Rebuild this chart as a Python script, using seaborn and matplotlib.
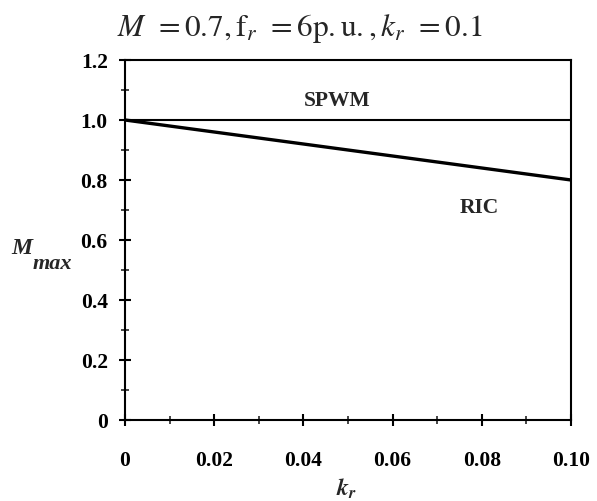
import matplotlib
matplotlib.use("Agg")
import matplotlib.pyplot as plt
import seaborn as sns
import pandas as pd
from matplotlib.ticker import FixedLocator, MultipleLocator, FixedFormatter

kr = [0.0, 0.02, 0.04, 0.06, 0.08, 0.10]
spwm = [1.0, 1.0, 1.0, 1.0, 1.0, 1.0]
ric = [1.0, 0.96, 0.92, 0.88, 0.84, 0.80]
xticks = [0.0, 0.02, 0.04, 0.06, 0.08, 0.10]
xticklabels = ["0", "0.02", "0.04", "0.06", "0.08", "0.10"]
yticks = [0.0, 0.2, 0.4, 0.6, 0.8, 1.0, 1.2]
yticklabels = ["0", "0.2", "0.4", "0.6", "0.8", "1.0", "1.2"]

sns.set_style("ticks")
plt.rcParams["font.family"] = ["Liberation Serif", "DejaVu Serif"]
plt.rcParams["mathtext.fontset"] = "stix"

df = pd.DataFrame({"kr": kr * 2, "M": spwm + ric,
                   "s": ["SPWM"] * len(kr) + ["RIC"] * len(kr)})

W, H = 597, 502
fig = plt.figure(figsize=(5.97, 5.02), dpi=100)
ax = fig.add_axes([125 / W, 1 - 421 / H, 446 / W, 360 / H])
sns.lineplot(data=df[df.s == "SPWM"], x="kr", y="M", color="black", lw=1.5, ax=ax)
sns.lineplot(data=df[df.s == "RIC"], x="kr", y="M", color="black", lw=2.4, ax=ax)

ax.set_xlim(0, 0.10)
ax.set_ylim(0, 1.2)
ax.xaxis.set_major_locator(FixedLocator(xticks))
ax.xaxis.set_major_formatter(FixedFormatter(xticklabels))
ax.xaxis.set_minor_locator(MultipleLocator(0.01))
ax.yaxis.set_major_locator(FixedLocator(yticks))
ax.yaxis.set_major_formatter(FixedFormatter(yticklabels))
ax.yaxis.set_minor_locator(MultipleLocator(0.1))
ax.tick_params(which="major", direction="inout", length=9, width=1.5, labelsize=15.5, colors="black")
ax.tick_params(which="minor", direction="inout", length=6, width=1.2)
ax.tick_params(axis="x", which="major", pad=17)
ax.tick_params(axis="y", which="major", pad=8)
for lab in ax.get_xticklabels() + ax.get_yticklabels():
    lab.set_fontweight("bold")
for s in ax.spines.values():
    s.set_visible(True)
    s.set_linewidth(1.5)
    s.set_color("black")

ax.set_xlabel("")
ax.set_ylabel("")
fig.text(347 / W, 1 - 489 / H, r"$\boldsymbol{k}_{\boldsymbol{r}}$", fontsize=17, ha="center", va="center")
fig.text(22 / W, 1 - 249 / H, "M", fontsize=17, fontstyle="italic", fontweight="bold", ha="center", va="center")
fig.text(52 / W, 1 - 264 / H, "max", fontsize=16, fontstyle="italic", fontweight="bold", ha="center", va="center")
fig.text(300 / W, 1 - 29 / H, r"$M\;\,=0.7,\mathrm{f}_r\;\,=6\mathrm{p.u.},k_r\;\,=0.1$", fontsize=22.5, ha="center", va="center")

ax.text(0.0476, 1.065, "SPWM", fontsize=15.5, fontweight="bold", ha="center", va="center")
ax.text(0.0795, 0.71, "RIC", fontsize=15.5, fontweight="bold", ha="center", va="center")

fig.savefig("out.png", dpi=100)
